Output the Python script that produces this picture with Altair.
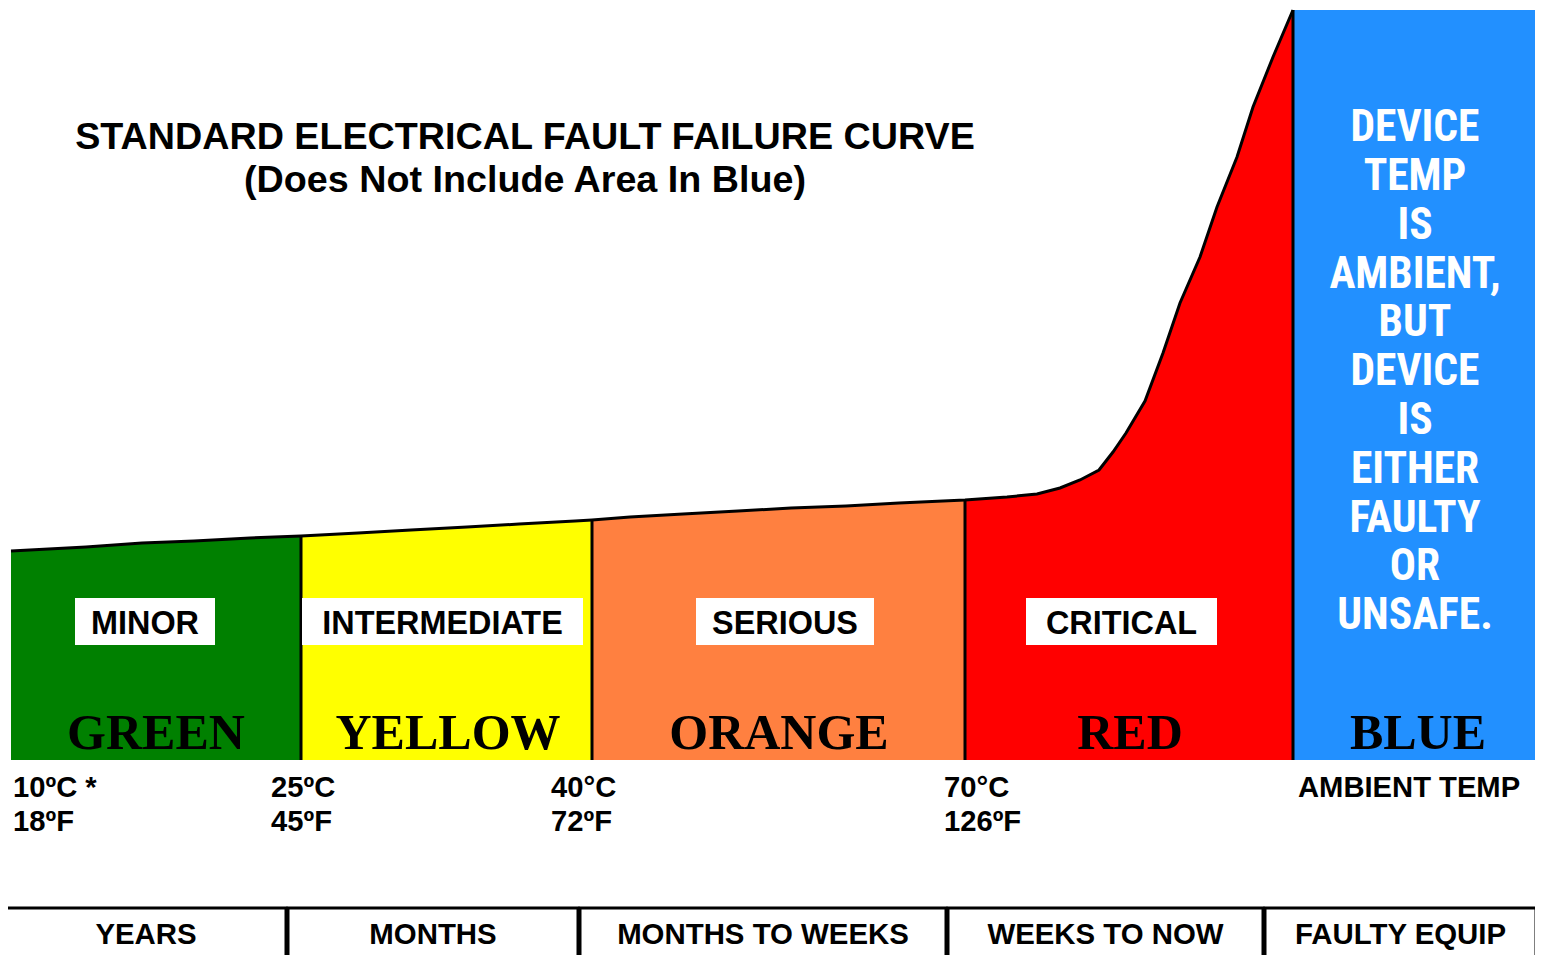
import altair as alt
import pandas as pd

# ---------------- data (page pixel units) ----------------
zone_names = ["GREEN", "YELLOW", "ORANGE", "RED"]
zone_colors = ["#008000", "#FFFF00", "#FF8040", "#FF0000"]

green_x = [11, 86, 142, 194, 250, 301]
green_y = [551, 547, 543, 541, 538, 536]
yellow_x = [301, 358, 411, 467, 519, 575, 592]
yellow_y = [536, 533, 530, 527, 524, 521, 520]
orange_x = [592, 630, 683, 738, 791, 846, 899, 965]
orange_y = [520, 517, 514, 511, 508, 506, 503, 500]
red_x = [965, 1007, 1037, 1060, 1080, 1099, 1113, 1126, 1145, 1163, 1180, 1200, 1217, 1237, 1253, 1273, 1293]
red_y = [500, 497, 494, 488, 480, 470, 452, 433, 401, 353, 303, 257, 207, 157, 107, 57, 10]
curve_base = 760

boundary_x = [301, 592, 965, 1293]
boundary_top = [536, 520, 500, 10]

blue_color = "#2290FF"
blue_x = [1294, 1540]
blue_y = [10, 760]

blue_lines = ["DEVICE", "TEMP", "IS", "AMBIENT,", "BUT", "DEVICE", "IS", "EITHER", "FAULTY", "OR", "UNSAFE."]
blue_line_y = [128, 177, 226, 275, 323, 372, 421, 470, 519, 567, 616]
blue_text_x = 1415

severity = ["MINOR", "INTERMEDIATE", "SERIOUS", "CRITICAL"]
sev_x0 = [75, 302, 696, 1026]
sev_x1 = [215, 583, 874, 1217]
sev_y0, sev_y1 = 598, 645

color_words = ["GREEN", "YELLOW", "ORANGE", "RED", "BLUE"]
color_word_x = [156, 448, 779, 1130, 1418]
color_word_y = 749

temp_c = ["10ºC *", "25ºC", "40°C", "70°C", "AMBIENT TEMP"]
temp_f = ["18ºF", "45ºF", "72ºF", "126ºF", ""]
temp_x = [13, 271, 551, 944, 1298]
temp_row_y = [788, 822]

periods = ["YEARS", "MONTHS", "MONTHS TO WEEKS", "WEEKS TO NOW", "FAULTY EQUIP"]
period_x0 = [6, 288, 580, 948, 1265]
period_x1 = [286, 578, 946, 1263, 1536]
period_top = 908
period_bottom = 990
period_text_y = 935

title_lines = ["STANDARD ELECTRICAL FAULT FAILURE CURVE", "(Does Not Include Area In Blue)"]
title_x = 525
title_y = [138, 181]

# ---------------- tables ----------------
rows = []
for name, xs, ys in zip(zone_names, [green_x, yellow_x, orange_x, red_x], [green_y, yellow_y, orange_y, red_y]):
    for x, y in zip(xs, ys):
        rows.append({"zone": name, "x": x, "y": y, "base": curve_base})
curve_df = pd.DataFrame(rows)
line_df = curve_df.drop_duplicates(subset=["x", "y"]).sort_values("x")

bound_df = pd.DataFrame({"x": boundary_x, "y": boundary_top, "y2": [curve_base] * len(boundary_x)})
blue_df = pd.DataFrame({"x": [blue_x[0]], "x2": [blue_x[1]], "y": [blue_y[0]], "y2": [blue_y[1]]})
blue_txt_df = pd.DataFrame({"t": blue_lines, "y": blue_line_y, "x": [blue_text_x] * len(blue_lines)})
sev_df = pd.DataFrame({"t": severity, "x": sev_x0, "x2": sev_x1, "y": [sev_y0] * 4, "y2": [sev_y1] * 4})
sev_df["xm"] = (sev_df["x"] + sev_df["x2"]) / 2
sev_df["ym"] = (sev_df["y"] + sev_df["y2"]) / 2 + 2.5
word_df = pd.DataFrame({"t": color_words, "x": color_word_x, "y": [color_word_y] * 5})
temp_df = pd.DataFrame({"t": temp_c + temp_f, "x": temp_x + temp_x,
                        "y": [temp_row_y[0]] * 5 + [temp_row_y[1]] * 5})
per_df = pd.DataFrame({"t": periods, "x": period_x0, "x2": period_x1,
                       "y": [period_top] * 5, "y2": [period_bottom] * 5})
per_df["xm"] = (per_df["x"] + per_df["x2"]) / 2
per_df["ym"] = [period_text_y] * 5
title_df = pd.DataFrame({"t": title_lines, "x": [title_x] * 2, "y": title_y})

# ---------------- scales ----------------
XS = alt.Scale(domain=[8, 1535], nice=False, zero=False)
YS = alt.Scale(domain=[8, 955], nice=False, zero=False, reverse=True)


def X(f):
    return alt.X(f, type="quantitative", scale=XS, axis=None)


def Y(f):
    return alt.Y(f, type="quantitative", scale=YS, axis=None)


SANS = "Liberation Sans, Arial, Helvetica, sans-serif"
NARROW = "Liberation Sans Narrow, Arial Narrow, Roboto Condensed, Liberation Sans, sans-serif"
SERIF = "Liberation Serif, Times New Roman, serif"

areas = alt.Chart(curve_df).mark_area(opacity=1, interpolate="linear").encode(
    x=X("x"), y=Y("y"), y2="base:Q",
    color=alt.Color("zone:N", scale=alt.Scale(domain=zone_names, range=zone_colors), legend=None),
    detail="zone:N",
)

blue = alt.Chart(blue_df).mark_rect(color=blue_color).encode(x=X("x"), x2="x2:Q", y=Y("y"), y2="y2:Q")

curve_line = alt.Chart(line_df).mark_line(color="black", strokeWidth=3, interpolate="linear").encode(
    x=X("x"), y=Y("y"), order="x:Q"
)

bounds = alt.Chart(bound_df).mark_rule(color="black", strokeWidth=3).encode(x=X("x"), y=Y("y"), y2="y2:Q")

sev_boxes = alt.Chart(sev_df).mark_rect(color="white").encode(x=X("x"), x2="x2:Q", y=Y("y"), y2="y2:Q")
sev_text = alt.Chart(sev_df).mark_text(font=SANS, fontWeight="bold", fontSize=32.4, color="black",
                                      baseline="middle", align="center").encode(
    x=X("xm"), y=Y("ym"), text="t:N")

word_text = alt.Chart(word_df).mark_text(font=SERIF, fontWeight="bold", fontSize=50, color="black",
                                        baseline="alphabetic", align="center").encode(
    x=X("x"), y=Y("y"), text="t:N")

blue_text = alt.Chart(blue_txt_df).mark_text(font=NARROW, fontWeight="bold", fontSize=43.5, color="white",
                                            baseline="middle", align="center").encode(
    x=X("x"), y=Y("y"), text="t:N")

temp_text = alt.Chart(temp_df).mark_text(font=SANS, fontWeight="bold", fontSize=29.2, color="black",
                                        baseline="middle", align="left").encode(
    x=X("x"), y=Y("y"), text="t:N")

per_boxes = alt.Chart(per_df).mark_rect(fill="white", stroke="black", strokeWidth=3).encode(
    x=X("x"), x2="x2:Q", y=Y("y"), y2="y2:Q")
per_text = alt.Chart(per_df).mark_text(font=SANS, fontWeight="bold", fontSize=29.4, color="black",
                                      baseline="middle", align="center").encode(
    x=X("xm"), y=Y("ym"), text="t:N")

title_text = alt.Chart(title_df).mark_text(font=SANS, fontWeight="bold", fontSize=37.7, color="black",
                                          baseline="middle", align="center").encode(
    x=X("x"), y=Y("y"), text="t:N")

chart = alt.layer(
    areas, blue, curve_line, bounds, sev_boxes, sev_text, word_text, blue_text,
    temp_text, per_boxes, per_text, title_text
).properties(
    width=1527, height=947, padding=0, autosize=alt.AutoSizeParams(type="none"),
    background="white",
).configure_view(stroke=None)

chart.save("out.html", embed_options={"renderer": "svg", "actions": False})
